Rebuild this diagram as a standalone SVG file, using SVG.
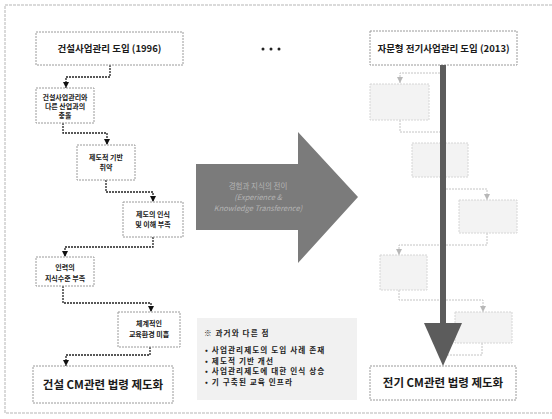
<svg xmlns="http://www.w3.org/2000/svg" width="552" height="419" viewBox="0 0 552 419">
<style>
.box{fill:#fff;stroke:#9a9a9a;stroke-width:1;stroke-dasharray:2 1}
.fbox{fill:#f3f3f3;stroke:#d6d6d6;stroke-width:1;stroke-dasharray:2 1}
.conn{fill:none;stroke:#222;stroke-width:1.3;stroke-dasharray:2 1}
.fconn{fill:none;stroke:#c4c4c4;stroke-width:1;stroke-dasharray:2 1}
.t{font-family:"Noto Sans CJK KR","Liberation Sans",sans-serif;fill:#1a1a1a;text-anchor:middle;font-weight:bold}
.s{font-size:7px}
.m{font-size:9.5px}
.l{font-size:11.5px}
.n{font-family:"Noto Sans CJK KR","Liberation Sans",sans-serif;fill:#222;font-size:7.6px;font-weight:bold;letter-spacing:1.1px}
.at{font-family:"Noto Sans CJK KR","Liberation Sans",sans-serif;fill:#b4b4b4;text-anchor:middle;font-size:7.5px}
</style>
<defs>
<marker id="ah" viewBox="0 0 10 10" refX="10" refY="5" markerWidth="6" markerHeight="6" markerUnits="userSpaceOnUse" orient="auto">
<path d="M0,0 L10,5 L0,10 z" fill="#111"/>
</marker>
<marker id="fah" viewBox="0 0 10 10" refX="10" refY="5" markerWidth="6" markerHeight="6" markerUnits="userSpaceOnUse" orient="auto">
<path d="M0,0 L10,5 L0,10 z" fill="#b8b8b8"/>
</marker>
</defs>
<rect width="552" height="419" fill="#fff"/>
<rect x="5" y="5" width="560" height="408" fill="none" stroke="#b5b5b5" stroke-width="1" stroke-dasharray="3 1"/>

<g id="connectors">
<polyline class="conn" points="110,65 110,77 66,77 66,88" marker-end="url(#ah)"/>
<polyline class="conn" points="63,123 63,133 107,133 107,145" marker-end="url(#ah)"/>
<polyline class="conn" points="106,180 106,192 153,192 153,202" marker-end="url(#ah)"/>
<polyline class="conn" points="153,237 153,247 65,247 65,257" marker-end="url(#ah)"/>
<polyline class="conn" points="63,286 63,303 151,303 151,312" marker-end="url(#ah)"/>
<polyline class="conn" points="150,347 150,355 66,355 66,366" marker-end="url(#ah)"/>
<polyline class="fconn" points="440,73 400,73 400,83" marker-end="url(#fah)"/>
<polyline class="fconn" points="400,120 400,132 440,132"/>
<polyline class="fconn" points="446,189 487,189 487,200" marker-end="url(#fah)"/>
<polyline class="fconn" points="487,233 487,245 399,245 399,255" marker-end="url(#fah)"/>
<polyline class="fconn" points="399,290 399,300 483,300 483,312" marker-end="url(#fah)"/>
<polyline class="fconn" points="482,343 482,355 446,355"/>
</g>

<g id="faded-boxes">
<rect class="fbox" x="370" y="84" width="59" height="36"/>
<rect class="fbox" x="412" y="143" width="56" height="34"/>
<rect class="fbox" x="459" y="200" width="58" height="33"/>
<rect class="fbox" x="380" y="255" width="47" height="35"/>
<rect class="fbox" x="455" y="312" width="57" height="31"/>
</g>

<g id="n1"><rect class="box" x="36" y="32" width="147" height="33"/><text class="t m" x="109.5" y="52">건설사업관리 도입 (1996)</text></g>
<g id="n2"><rect class="box" x="36" y="88" width="58" height="35"/><text class="t s" x="65" y="100">건설사업관리와</text><text class="t s" x="65" y="109">다른 산업과의</text><text class="t s" x="65" y="118">충돌</text></g>
<g id="n3"><rect class="box" x="77" y="145" width="58" height="35"/><text class="t s" x="106" y="160">제도적 기반</text><text class="t s" x="106" y="170">취약</text></g>
<g id="n4"><rect class="box" x="123" y="202" width="60" height="35"/><text class="t s" x="153" y="217">제도의 인식</text><text class="t s" x="153" y="227">및 이해 부족</text></g>
<g id="n5"><rect class="box" x="36" y="257" width="58" height="29"/><text class="t s" x="65" y="270">인력의</text><text class="t s" x="65" y="281">지식수준 부족</text></g>
<g id="n6"><rect class="box" x="118" y="312" width="62" height="35"/><text class="t s" x="149" y="326">체계적인</text><text class="t s" x="149" y="337">교육환경 미흡</text></g>
<g id="n7"><rect class="box" x="33" y="366" width="140" height="37"/><text class="t l" x="103" y="389">건설 CM관련 법령 제도화</text></g>

<g id="dots" fill="#222"><circle cx="263" cy="49" r="1.5"/><circle cx="271" cy="49" r="1.5"/><circle cx="279" cy="49" r="1.5"/></g>

<g id="transfer-arrow">
<polygon points="196,164 298,164 298,132 358,197 298,263 298,230 196,230" fill="#7b7b7b"/>
<text class="at" x="258" y="189">경험과 지식의 전이</text>
<text class="at" x="258" y="200" font-style="italic">(Experience &amp;</text>
<text class="at" x="258" y="211" font-style="italic">Knowledge Transference)</text>
</g>

<g id="note">
<rect x="197" y="318" width="160" height="82" fill="#f1f1f1"/>
<text class="n" x="204" y="336">※ 과거와 다른 점</text>
<text class="n" x="205" y="353">•  사업관리제도의 도입 사례 존재</text>
<text class="n" x="205" y="363.5">•  제도적 기반 개선</text>
<text class="n" x="205" y="374">•  사업관리제도에 대한 인식 상승</text>
<text class="n" x="205" y="384.5">•  기 구축된 교육 인프라</text>
</g>

<g id="r1"><rect class="box" x="370" y="31" width="147" height="34"/><text class="t m" x="443.5" y="52">자문형 전기사업관리 도입 (2013)</text></g>
<g id="main-arrow" fill="#5c5c5c"><rect x="440" y="65" width="6" height="260"/><polygon points="424,323 462,323 443,366"/></g>
<g id="r2"><rect class="box" x="370" y="366" width="146" height="34"/><text class="t l" x="443" y="387">전기 CM관련 법령 제도화</text></g>
</svg>
